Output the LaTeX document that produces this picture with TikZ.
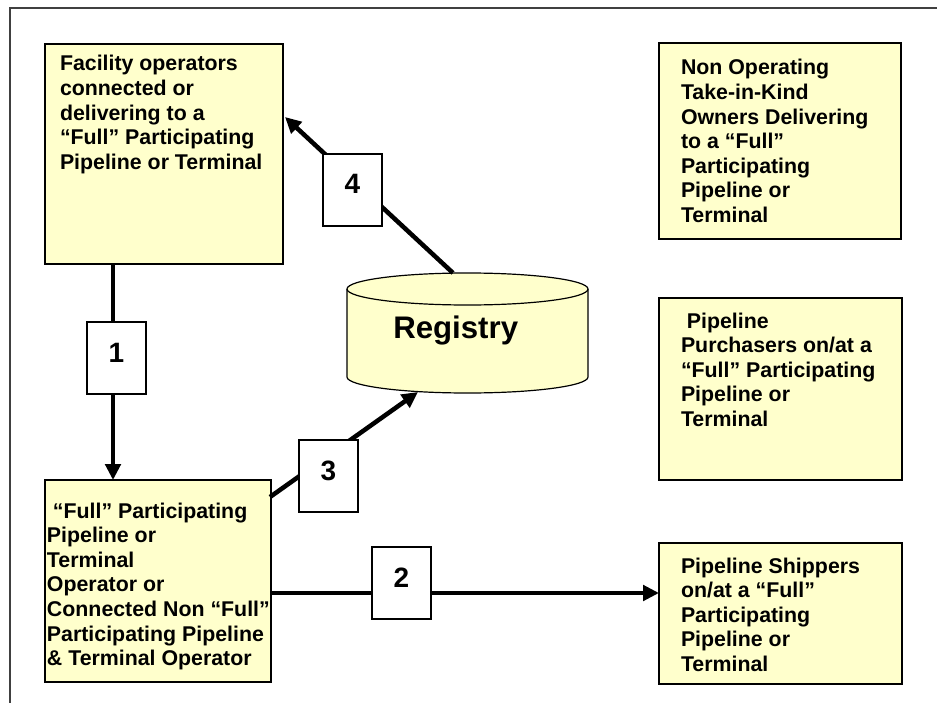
\documentclass[tikz,border=0pt]{standalone}
\usepackage{fontspec}
\setmainfont{Liberation Sans}
\usetikzlibrary{arrows.meta,calc}
\definecolor{boxyellow}{RGB}{255,255,204}
\newdimen\pxunit \pxunit=0.75pt
% #1 width, #2 height, #3 left pad, #4 first baseline offset, #5 text (all in px)
\newcommand\boxcontent[5]{\parbox[t][#2\pxunit][t]{#1\pxunit}{\raggedright\leftskip=#3\pxunit\relax\fontsize{16pt}{18.45pt}\selectfont\rule{0pt}{#4\pxunit}#5}}
\newcommand\numcontent[1]{\parbox[t][72\pxunit][t]{59\pxunit}{\centering\fontsize{21pt}{25pt}\selectfont\rule{0pt}{40\pxunit}#1}}
\begin{document}
\begin{tikzpicture}[x=0.75pt,y=-0.75pt,
  yellowbox/.style={draw=black, fill=boxyellow, line width=0.9pt, inner sep=0pt, outer sep=0pt, anchor=north west, font=\bfseries},
  numbox/.style={draw=black, fill=white, line width=0.9pt, inner sep=0pt, outer sep=0pt, anchor=north west, font=\bfseries},
  flow/.style={line width=3.4pt, -{Triangle[length=12pt,width=11.5pt]}},
  frameline/.style={draw=black!75, line width=1.1pt}]
\useasboundingbox (0,0) rectangle (937,702);
\clip (0,0) rectangle (937,702);
\fill[white] (0,0) rectangle (937,702);
% outer frame (cut off at right and bottom)
\draw[frameline] (10,720) -- (10,8) -- (960,8);

% yellow boxes
\node[yellowbox] (boxA) at (45,44) {\boxcontent{238}{220}{15}{27}{Facility operators\\connected or\\delivering to a\\“Full” Participating\\Pipeline or Terminal}};
\node[yellowbox] (boxB) at (45,480) {\boxcontent{226}{202}{2}{38}{~“Full” Participating\\Pipeline or\\Terminal\\Operator or\\Connected Non “Full”\\Participating Pipeline\\\& Terminal Operator}};
\node[yellowbox] (boxC) at (659,43) {\boxcontent{242}{196}{22}{32}{Non Operating\\Take-in-Kind\\Owners Delivering\\to a “Full”\\Participating\\Pipeline or\\Terminal}};
\node[yellowbox] (boxD) at (659,298) {\boxcontent{243}{182}{22}{30}{~Pipeline\\Purchasers on/at a\\“Full” Participating\\Pipeline or\\Terminal}};
\node[yellowbox] (boxE) at (659,543) {\boxcontent{243}{141}{22}{30}{Pipeline Shippers\\on/at a “Full”\\Participating\\Pipeline or\\Terminal}};

% registry cylinder
\path[draw=black, fill=boxyellow, line width=0.9pt] (347,289) -- (347,377)
  arc[start angle=180, end angle=360, x radius=90.375pt, y radius=12pt]
  -- (588,289)
  arc[start angle=0, end angle=180, x radius=90.375pt, y radius=12pt] -- cycle;
\draw[line width=0.9pt] (347,289) arc[start angle=180, end angle=360, x radius=90.375pt, y radius=12pt];
\node[font=\bfseries\fontsize{23.4pt}{27pt}\selectfont, anchor=base west, inner sep=0pt] (reg) at (393,338) {Registry};
\coordinate (regtop) at (453,273);
\coordinate (regbot) at (418,392);

% connectors
\coordinate (s1) at ($(boxA.south west)+(68,0)$);
\draw[flow] (s1) -- (s1 |- boxB.north);
\coordinate (s2) at ($(boxB.north east)+(0,113)$);
\draw[flow] (s2) -- (s2 -| boxE.west);
\coordinate (s3) at ($(boxB.north east)+(-1,17)$);
\draw[flow] (s3) -- (regbot);
\coordinate (e4) at ($(boxA.north east)+(2,73)$);
\draw[flow] (regtop) -- (e4);

% number boxes
\node[numbox] (n1) at (87,322) {\numcontent{1}};
\node[numbox] (n2) at (372,547) {\numcontent{2}};
\node[numbox] (n3) at (299,440) {\numcontent{3}};
\node[numbox] (n4) at (323,154) {\numcontent{4}};
\end{tikzpicture}
\end{document}
